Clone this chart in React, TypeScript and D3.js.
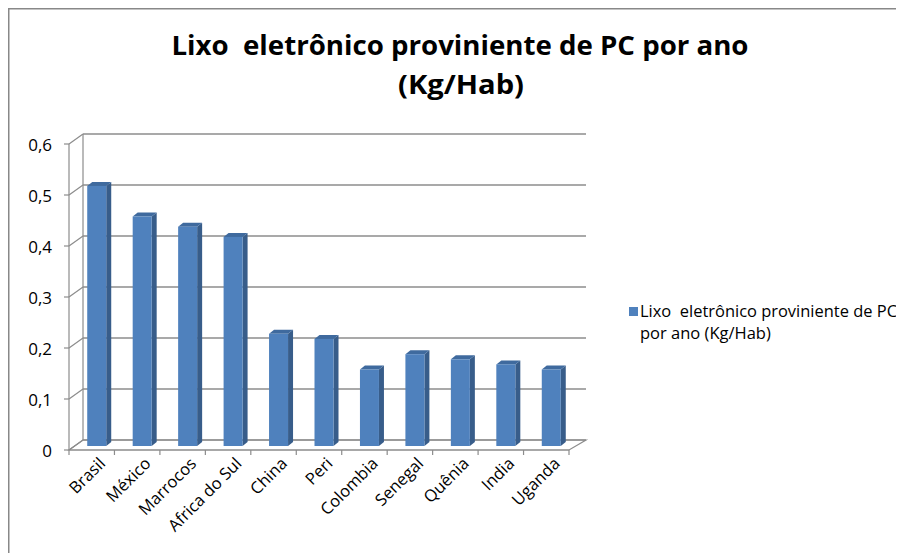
import React from 'react';
import * as d3 from 'd3';

const categories = ['Brasil', 'México', 'Marrocos', 'Africa do Sul', 'China', 'Peri', 'Colombia', 'Senegal', 'Quênia', 'India', 'Uganda'];
const values = [0.51, 0.45, 0.43, 0.41, 0.22, 0.21, 0.15, 0.18, 0.17, 0.16, 0.15];
const yTicks = [0, 0.1, 0.2, 0.3, 0.4, 0.5, 0.6];
const titleLines = ['Lixo  eletrônico proviniente de PC por ano', '(Kg/Hab)'];
const legendLines = ['Lixo  eletrônico proviniente de PC', 'por ano (Kg/Hab)'];

const FONT = '"Open Sans", Lato, sans-serif';
const FRONT = '#4F81BD';
const SIDE = '#385D8A';
const TOP = '#3F6A9E';
const GRID = '#8C8C8C';

export default function App() {
  const x = d3.scaleBand<string>().domain(categories).range([69, 569]).padding(0);
  const y = d3.scaleLinear().domain([0, 0.6]).range([450, 144]);
  const back = d3.scaleLinear().domain([69, 569]).range([83, 586]);
  const DY = -10; // back wall offset
  const bdx = 5, bdy = -4; // bar depth
  const bw = 19;
  const fmt = (t: number) => (t === 0 ? '0' : d3.format('.1f')(t).replace('.', ','));
  const boundaries = d3.range(categories.length + 1).map(i => 69 + i * x.bandwidth());

  return (
    <svg width={896} height={545} style={{ display: 'block' }}>
      <g transform="translate(-8,-8)">
        <rect x={8.75} y={8.75} width={2000} height={2000} fill="#fff" stroke="#888" strokeWidth={1.5} />
        {/* title */}
        <text x={460} y={55} textAnchor="middle" fontFamily={FONT} fontWeight="bold" fontSize={26} fill="#000" textLength={577} lengthAdjust="spacingAndGlyphs" style={{ whiteSpace: 'pre' }}>{titleLines[0]}</text>
        <text x={461} y={94} textAnchor="middle" fontFamily={FONT} fontWeight="bold" fontSize={26} fill="#000" textLength={126} lengthAdjust="spacingAndGlyphs">{titleLines[1]}</text>

        {/* floor */}
        <polygon points={`69,450 ${back(69)},${450 + DY} ${back(569)},${450 + DY} 569,450`} fill="none" stroke={GRID} strokeWidth={1.2} />
        {/* back wall left edge */}
        <line x1={back(69)} y1={y(0.6) + DY} x2={back(69)} y2={y(0) + DY} stroke={GRID} strokeWidth={1.2} />
        {/* gridlines */}
        {yTicks.map(t => (
          <g key={t}>
            <line x1={back(69)} y1={y(t) + DY} x2={back(569)} y2={y(t) + DY} stroke={GRID} strokeWidth={1.3} />
            <line x1={69} y1={y(t)} x2={back(69)} y2={y(t) + DY} stroke={GRID} strokeWidth={1.2} />
            <line x1={64} y1={y(t)} x2={69} y2={y(t)} stroke={GRID} strokeWidth={1.2} />
            <text x={52} y={y(t)} textAnchor="end" dominantBaseline="central" fontFamily={FONT} fontSize={17} fill="#000">{fmt(t)}</text>
          </g>
        ))}
        {/* axes */}
        <line x1={69} y1={y(0.6)} x2={69} y2={450} stroke={GRID} strokeWidth={1.2} />
        <line x1={69} y1={450} x2={569} y2={450} stroke={GRID} strokeWidth={1.2} />
        {boundaries.map((b, i) => (
          <line key={i} x1={b} y1={450} x2={b} y2={455} stroke={GRID} strokeWidth={1.2} />
        ))}

        {/* bars */}
        {categories.map((c, i) => {
          const cx = (x(c) as number) + x.bandwidth() / 2;
          const xl = cx - bw / 2 + bdx;
          const xr = xl + bw;
          const top = y(values[i]) + bdy;
          const bot = y(0) + bdy;
          return (
            <g key={c}>
              <polygon points={`${xr},${top} ${xr + bdx},${top + bdy} ${xr + bdx},${bot + bdy} ${xr},${bot}`} fill={SIDE} />
              <polygon points={`${xl},${top} ${xl + bdx},${top + bdy} ${xr + bdx},${top + bdy} ${xr},${top}`} fill={TOP} />
              <rect x={xl} y={top} width={bw} height={bot - top} fill={FRONT} />
            </g>
          );
        })}

        {/* category labels */}
        {categories.map(c => {
          const cx = (x(c) as number) + x.bandwidth() / 2;
          return (
            <text key={c} transform={`translate(${cx + 10},${460}) rotate(-45)`} textAnchor="end" dominantBaseline="central" fontFamily={FONT} fontSize={16.5} fill="#000">{c}</text>
          );
        })}

        {/* legend */}
        <rect x={629} y={307} width={9} height={9} fill={FRONT} />
        <text x={640} y={317} fontFamily={FONT} fontSize={16.5} fill="#000" textLength={257} lengthAdjust="spacingAndGlyphs" style={{ whiteSpace: 'pre' }}>{legendLines[0]}</text>
        <text x={640} y={339} fontFamily={FONT} fontSize={16.5} fill="#000">{legendLines[1]}</text>
      </g>
    </svg>
  );
}
